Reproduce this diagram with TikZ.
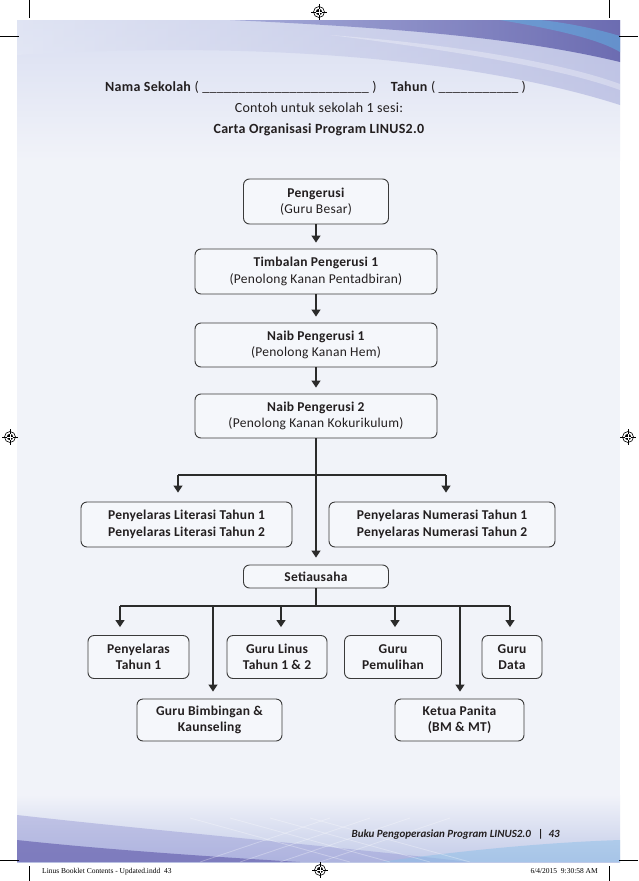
\documentclass[tikz,border=0pt]{standalone}
\usepackage{fontspec}
\setmainfont{Carlito}
\newfontfamily\boxfont[LetterSpace=2]{Carlito}
\newfontfamily\slugfont{Liberation Serif}
\usetikzlibrary{arrows.meta,calc}
\definecolor{pagebg}{HTML}{F1F3F9}
\definecolor{topA}{HTML}{D9DEF1}
\definecolor{swA}{HTML}{E4E8F5}
\definecolor{swB}{HTML}{A9AEDB}
\definecolor{swC}{HTML}{9A9FD4}
\definecolor{swD}{HTML}{5857A5}
\definecolor{cyanS}{HTML}{5FB0E3}
\definecolor{botA}{HTML}{C3CBE8}
\definecolor{botP}{HTML}{9597D4}
\definecolor{botD}{HTML}{645EAD}
\definecolor{botC}{HTML}{8CBFE8}
\definecolor{textcol}{HTML}{231F20}
\definecolor{boxline}{HTML}{3A3A3A}
\definecolor{linecol}{HTML}{2B2B2B}
\tikzset{
  orgbox/.style={draw=boxline, line width=0.9pt, rounded corners=6pt, fill=white, fill opacity=0.35, text opacity=1,
    align=center, text=textcol, inner sep=0pt, font=\boxfont\fontsize{13.5}{16.5}\selectfont},
  conn/.style={draw=linecol, line width=1.4pt},
  arr/.style={conn, -{Triangle[width=9pt,length=7pt]}},
  titletext/.style={text=textcol, inner sep=0pt, font=\boxfont\fontsize{14}{17}\selectfont},
  crop/.style={line width=0.6pt, black},
  regmark/.pic={
    \draw[line width=0.6pt] (0,0) circle (5.5);
    \draw[line width=0.6pt] (-8,0) -- (8,0) (0,-8) -- (0,8);
    \fill (0,0) circle (3.2);
    \draw[white, line width=0.7pt] (-3.2,0) -- (3.2,0) (0,-3.2) -- (0,3.2);
  }
}
\begin{document}
\begin{tikzpicture}[x=1pt,y=-1pt]
\useasboundingbox (0,0) rectangle (638,881);
\fill[white] (0,0) rectangle (638,881);
% page background
\fill[pagebg] (17,20) rectangle (620,862);
\shade[top color=topA, bottom color=pagebg] (17,20) rectangle (620,160);
\shade[left color=swA, right color=swB, fill opacity=0.6] (17,20) -- (620,20) -- (620,105) .. controls (480,60) and (260,40) .. (17,55) -- cycle;
\shade[left color=swC, right color=swD, fill opacity=0.8] (230,20) -- (620,20) -- (620,62) .. controls (520,38) and (400,28) .. (230,20) -- cycle;
\fill[cyanS, opacity=0.55] (500,20) .. controls (560,30) and (600,40) .. (620,52) -- (620,36) .. controls (590,27) and (560,22) .. (540,20) -- cycle;
\fill[white, opacity=0.3] (330,35) .. controls (450,50) and (560,68) .. (620,90) -- (620,84) .. controls (560,62) and (450,44) .. (330,35) -- cycle;
\shade[top color=pagebg, bottom color=botA] (17,795) rectangle (620,862);
\fill[botP, opacity=0.45] (17,815) .. controls (150,830) and (320,845) .. (470,862) -- (17,862) -- cycle;
\fill[botD, opacity=0.65] (17,840) .. controls (100,849) and (200,856) .. (300,862) -- (17,862) -- cycle;
\fill[botC, opacity=0.5] (380,862) .. controls (480,848) and (560,842) .. (620,840) -- (620,862) -- cycle;
\foreach \a/\b in {200/330,240/370,280/410,320/450}{
  \draw[white, opacity=0.3, line width=0.8pt] (\a,862) -- (\b,818);
  \draw[white, opacity=0.3, line width=0.8pt] (\b+20,862) -- (\a-10,818);
}
% crop marks
\draw[crop] (29,0) -- (29,18) (609,0) -- (609,18) (0,36) -- (19,36) (619,36) -- (638,36);
\draw[crop] (29,866) -- (29,881) (609,866) -- (609,881) (0,860) -- (19,860) (619,860) -- (638,860);
\pic at (319,12) {regmark};
\pic at (10,437) {regmark};
\pic at (628,437) {regmark};
\pic at (320,870) {regmark};
% titles
\node[titletext, anchor=base west] (nama) at (105,91) {\textbf{Nama Sekolah} ( \_\_\_\_\_\_\_\_\_\_\_\_\_\_\_\_\_\_\_\_\_\_\_ )\quad\textbf{Tahun} ( \_\_\_\_\_\_\_\_\_\_\_ )};
\node[titletext, anchor=base] (contoh) at (319,112) {Contoh untuk sekolah 1 sesi:};
\node[titletext, anchor=base] (carta) at (319,133) {\textbf{Carta Organisasi Program LINUS2.0}};
% boxes
\node[orgbox, minimum width=145pt, minimum height=45pt] (peng) at (316,201.5) {\textbf{Pengerusi}\\(Guru Besar)};
\node[orgbox, minimum width=242pt, minimum height=45pt] (timb) at (316,271.5) {\textbf{Timbalan Pengerusi 1}\\(Penolong Kanan Pentadbiran)};
\node[orgbox, minimum width=242pt, minimum height=44pt] (naib1) at (316,345) {\textbf{Naib Pengerusi 1}\\(Penolong Kanan Hem)};
\node[orgbox, minimum width=242pt, minimum height=44pt] (naib2) at (316,416) {\textbf{Naib Pengerusi 2}\\(Penolong Kanan Kokurikulum)};
\node[orgbox, minimum width=211pt, minimum height=45pt, font=\boxfont\bfseries\fontsize{13.5}{16.5}\selectfont] (lit) at (186.5,524.5) {Penyelaras Literasi Tahun 1\\Penyelaras Literasi Tahun 2};
\node[orgbox, minimum width=226pt, minimum height=45pt, font=\boxfont\bfseries\fontsize{13.5}{16.5}\selectfont] (num) at (442,524.5) {Penyelaras Numerasi Tahun 1\\Penyelaras Numerasi Tahun 2};
\node[orgbox, minimum width=145pt, minimum height=23pt, font=\boxfont\bfseries\fontsize{13.5}{16.5}\selectfont] (seti) at (316,576.5) {Setiausaha};
\tikzset{lowbox/.style={orgbox, minimum height=43pt, font=\boxfont\bfseries\fontsize{13.5}{16.5}\selectfont}}
\node[lowbox, minimum width=101pt] (py1) at (138.5,657) {Penyelaras\\Tahun 1};
\node[lowbox, minimum width=100pt] (linus) at (277,657) {Guru Linus\\Tahun 1 \& 2};
\node[lowbox, minimum width=97pt] (pemul) at (393,657) {Guru\\Pemulihan};
\node[lowbox, minimum width=60pt] (data) at (512,657) {Guru\\Data};
\node[lowbox, minimum width=145pt, minimum height=42pt] (bimb) at (209.5,720) {Guru Bimbingan \&\\Kaunseling};
\node[lowbox, minimum width=129pt, minimum height=42pt] (ketua) at (459.5,720) {Ketua Panita\\(BM \& MT)};
% connectors upper chain
\draw[arr, shorten >=6pt] (peng.south) -- (peng.south |- timb.north);
\draw[arr, shorten >=6pt] (timb.south) -- (timb.south |- naib1.north);
\draw[arr, shorten >=6pt] (naib1.south) -- (naib1.south |- naib2.north);
\draw[arr, shorten >=7pt] (naib2.south) -- (naib2.south |- seti.north);
% first bus
\coordinate (bus1) at (316,475);
\coordinate (dlit) at ([xshift=-8.5pt]lit.north);
\coordinate (dnum) at ([xshift=4pt]num.north);
\draw[conn] (dlit |- bus1) -- (dnum |- bus1);
\draw[arr, shorten >=9pt] (dlit |- bus1) -- (dlit);
\draw[arr, shorten >=9pt] (dnum |- bus1) -- (dnum);
% second bus
\coordinate (bus2) at (316,606);
\coordinate (dpy1) at ([xshift=-18.5pt]py1.north);
\coordinate (dbimb) at ([xshift=3.5pt]bimb.north);
\coordinate (dlinus) at ([xshift=4pt]linus.north);
\coordinate (dpemul) at ([xshift=2pt]pemul.north);
\coordinate (dketua) at ([xshift=0.5pt]ketua.north);
\coordinate (ddata) at ([xshift=-2pt]data.north);
\draw[conn] (seti.south) -- (seti.south |- bus2);
\draw[conn] (dpy1 |- bus2) -- (ddata |- bus2);
\draw[arr, shorten >=8pt] (dpy1 |- bus2) -- (dpy1);
\draw[arr, shorten >=7pt] (dbimb |- bus2) -- (dbimb);
\draw[arr, shorten >=8pt] (dlinus |- bus2) -- (dlinus);
\draw[arr, shorten >=8pt] (dpemul |- bus2) -- (dpemul);
\draw[arr, shorten >=7pt] (dketua |- bus2) -- (dketua);
\draw[arr, shorten >=8pt] (ddata |- bus2) -- (ddata);
% footer
\node[anchor=base east, inner sep=0pt, text=textcol, font=\fontsize{11}{13}\selectfont\bfseries\itshape] (foot) at (560,837) {Buku Pengoperasian Program LINUS2.0 \ \ |\ \ 43};
\node[anchor=base west, inner sep=0pt, font=\slugfont\fontsize{7.5}{9}\selectfont] (slugl) at (42,873) {Linus Booklet Contents - Updated.indd\ \ 43};
\node[anchor=base east, inner sep=0pt, font=\slugfont\fontsize{7.5}{9}\selectfont] (slugr) at (598,873) {6/4/2015\ \ 9:30:58 AM};
\end{tikzpicture}
\end{document}
